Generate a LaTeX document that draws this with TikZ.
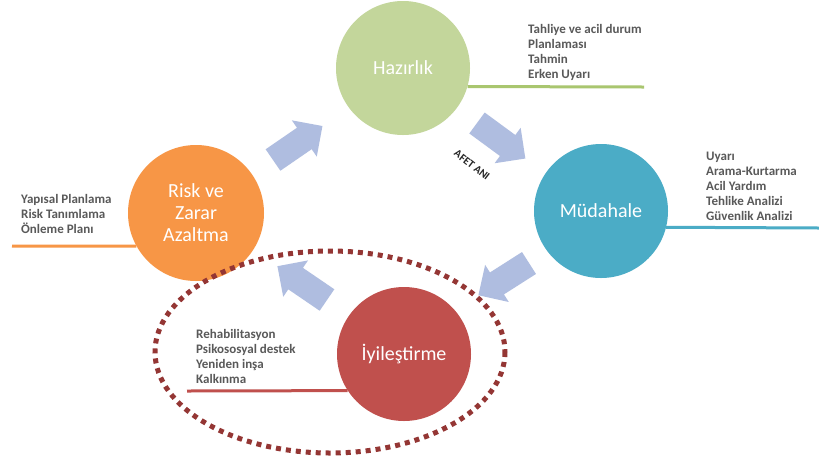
\documentclass[tikz,border=0pt]{standalone}
\usepackage{fontspec}
\setmainfont{Carlito}
\definecolor{hzfill}{HTML}{C3D69B}
\definecolor{hzline}{HTML}{A9C66F}
\definecolor{mdfill}{HTML}{4BACC6}
\definecolor{rzfill}{HTML}{F79646}
\definecolor{iyfill}{HTML}{C0504D}
\definecolor{arrowc}{HTML}{AFBDE0}
\definecolor{dotc}{HTML}{943634}
\definecolor{txtc}{HTML}{595959}
\begin{document}
\begin{tikzpicture}[x=1pt,y=-1pt,
  phase/.style={circle,minimum size=134pt,inner sep=0pt,text=white,font=\fontsize{20}{22}\selectfont,align=center},
  info/.style={anchor=west,inner sep=0pt,align=left,text=txtc,font=\fontsize{13}{15}\selectfont\bfseries},
  uline/.style={line width=3pt},
  barrow/.style={fill=arrowc}]
\path[use as bounding box,fill=white] (0,0) rectangle (819,459);

% block arrows
\def\blockarrow{(0,-13)--(38,-13)--(38,-22)--(60,0)--(38,22)--(38,13)--(0,13)--cycle}
\begin{scope}[shift={(273,160)},rotate=34.5]\fill[barrow] \blockarrow;\end{scope}
\begin{scope}[shift={(477,123)},rotate=-36.3]\fill[barrow] \blockarrow;\end{scope}
\begin{scope}[shift={(529,263)},rotate=-147.5]\fill[barrow] \blockarrow;\end{scope}
\begin{scope}[shift={(327,300)},rotate=145.7]\fill[barrow] \blockarrow;\end{scope}

% circles
\node[phase,fill=hzfill] (hz) at (403,68) {Hazırlık};
\node[phase,fill=mdfill] (md) at (601,211) {Müdahale};
\node[phase,fill=rzfill,minimum size=136pt] (rz) at (196,213) {Risk ve\\Zarar\\Azaltma};
\node[phase,fill=iyfill] (iy) at (404,354) {İyileştirme};

% underline ends
\coordinate (hzend) at (644,87);
\coordinate (mdend) at (819,228);
\coordinate (rzend) at (12,246);
\coordinate (iyend) at (187,391);
\draw[uline,hzline] (hz.-16.7) -- (hzend);
\draw[uline,mdfill] (md.-14.7) -- (mdend);
\draw[uline,rzfill] (rz.209) -- (rzend);
\draw[uline,iyfill] (iy.213.5) -- (iyend);

% info texts
\node[info] (hzt) at (528,52.5) {Tahliye ve acil durum\\Planlaması\\Tahmin\\Erken Uyarı};
\node[info] (mdt) at (706,186.5) {Uyarı\\Arama-Kurtarma\\Acil Yardım\\Tehlike Analizi\\Güvenlik Analizi};
\node[info] (rzt) at (21,213.5) {Yapısal Planlama\\Risk Tanımlama\\Önleme Planı};
\node[info] (iyt) at (196,356.5) {Rehabilitasyon\\Psikososyal destek\\Yeniden inşa\\Kalkınma};

\node[rotate=-38,font=\fontsize{11}{12}\selectfont\bfseries,text=black!85,inner sep=0pt] (afet) at (472,165) {AFET ANI};

% dotted ellipse
\draw[dotc,line width=5pt,dash pattern=on 5pt off 5pt] (330,352) ellipse [x radius=175, y radius=101];
\end{tikzpicture}
\end{document}
